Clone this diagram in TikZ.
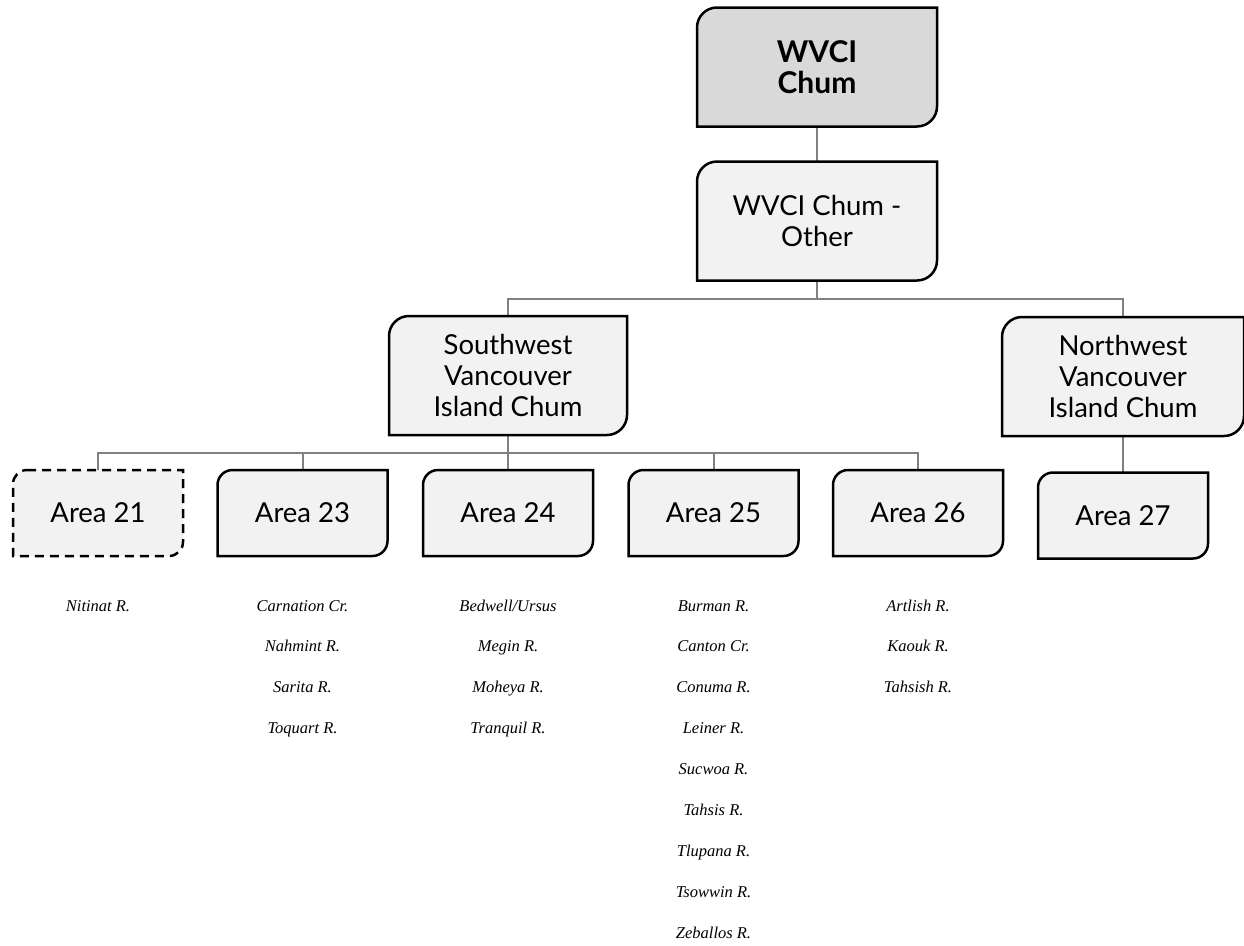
\documentclass[tikz,border=0pt]{standalone}
\usepackage{fontspec}
\setmainfont{Lato}
\newfontfamily\listfont{Liberation Serif}
\usetikzlibrary{backgrounds}
\definecolor{boxfill}{HTML}{F2F2F2}
\definecolor{topfill}{HTML}{D9D9D9}
\definecolor{linegray}{HTML}{808080}
\newcommand\diagshape[3][]{%
  \draw[#1] ([xshift=#3]#2.north west) -- (#2.north east) -- ([yshift=#3]#2.south east)
    arc[start angle=0,end angle=-90,radius=#3] -- (#2.south west) -- ([yshift=-#3]#2.north west)
    arc[start angle=180,end angle=90,radius=#3] -- cycle;}
\tikzset{
  lbl/.style={font=\fontsize{27.5}{31}\selectfont, align=center, inner sep=0pt, outer sep=0pt},
  big/.style={lbl, minimum width=240pt, minimum height=119pt},
  area/.style={lbl, minimum width=170pt, minimum height=86pt},
  river/.style={font=\listfont\itshape\fontsize{16.5}{20}\selectfont, inner sep=0pt, anchor=base},
  conn/.style={draw=linegray, line width=2pt},
  boxline/.style={draw=black, line width=2.5pt, fill=boxfill},
}
\begin{document}
\begin{tikzpicture}[x=1pt,y=1pt]
\useasboundingbox (0,0) rectangle (1244,-945);
\node[big, font=\fontsize{30}{31}\selectfont\bfseries] (top) at (817,-67) {WVCI\\Chum};
\node[big] (other) at (817,-221) {WVCI Chum -\\Other};
\node[big, minimum width=238pt] (sw) at (508,-375.5) {Southwest\\Vancouver\\Island Chum};
\node[big, minimum width=242pt] (nw) at (1123,-376.5) {Northwest\\Vancouver\\Island Chum};
\node[area] (a21) at (98,-513) {Area 21};
\node[area] (a23) at (302.5,-513) {Area 23};
\node[area] (a24) at (508,-513) {Area 24};
\node[area] (a25) at (713.5,-513) {Area 25};
\node[area] (a26) at (918,-513) {Area 26};
\node[area] (a27) at (1123,-515.5) {Area 27};

\node[river] (r21-1) at (98,-611) {Nitinat R.};
\foreach \t [count=\i] in {{Carnation Cr.}, {Nahmint R.}, {Sarita R.}, {Toquart R.}}
  {\node[river] (r23-\i) at (302.5,{-(611+40.9*(\i-1))}) {\t};}
\foreach \t [count=\i] in {{Bedwell/Ursus}, {Megin R.}, {Moheya R.}, {Tranquil R.}}
  {\node[river] (r24-\i) at (508,{-(611+40.9*(\i-1))}) {\t};}
\foreach \t [count=\i] in {{Burman R.}, {Canton Cr.}, {Conuma R.}, {Leiner R.}, {Sucwoa R.}, {Tahsis R.}, {Tlupana R.}, {Tsowwin R.}, {Zeballos R.}}
  {\node[river] (r25-\i) at (713.5,{-(611+40.9*(\i-1))}) {\t};}
\foreach \t [count=\i] in {{Artlish R.}, {Kaouk R.}, {Tahsish R.}}
  {\node[river] (r26-\i) at (918,{-(611+40.9*(\i-1))}) {\t};}

\begin{scope}[on background layer]
  \draw[conn] (top.south) -- (other.north);
  \draw[conn] (other.south) -- ++(0,-18) coordinate (b1);
  \draw[conn] (b1) -| (sw.north);
  \draw[conn] (b1) -| (nw.north);
  \draw[conn] (sw.south) -- ++(0,-18) coordinate (b2);
  \foreach \n in {a21,a23,a24,a25,a26} {\draw[conn] (b2) -| (\n.north);}
  \draw[conn] (nw.south) -- (a27.north);
  \diagshape[boxline, fill=topfill]{top}{20pt}
  \diagshape[boxline]{other}{20pt}
  \diagshape[boxline]{sw}{20pt}
  \diagshape[boxline]{nw}{20pt}
  \diagshape[boxline, dash pattern=on 9pt off 6pt]{a21}{14pt}
  \foreach \n in {a23,a24,a25,a26,a27} {\diagshape[boxline]{\n}{15pt}}
\end{scope}
\end{tikzpicture}
\end{document}
